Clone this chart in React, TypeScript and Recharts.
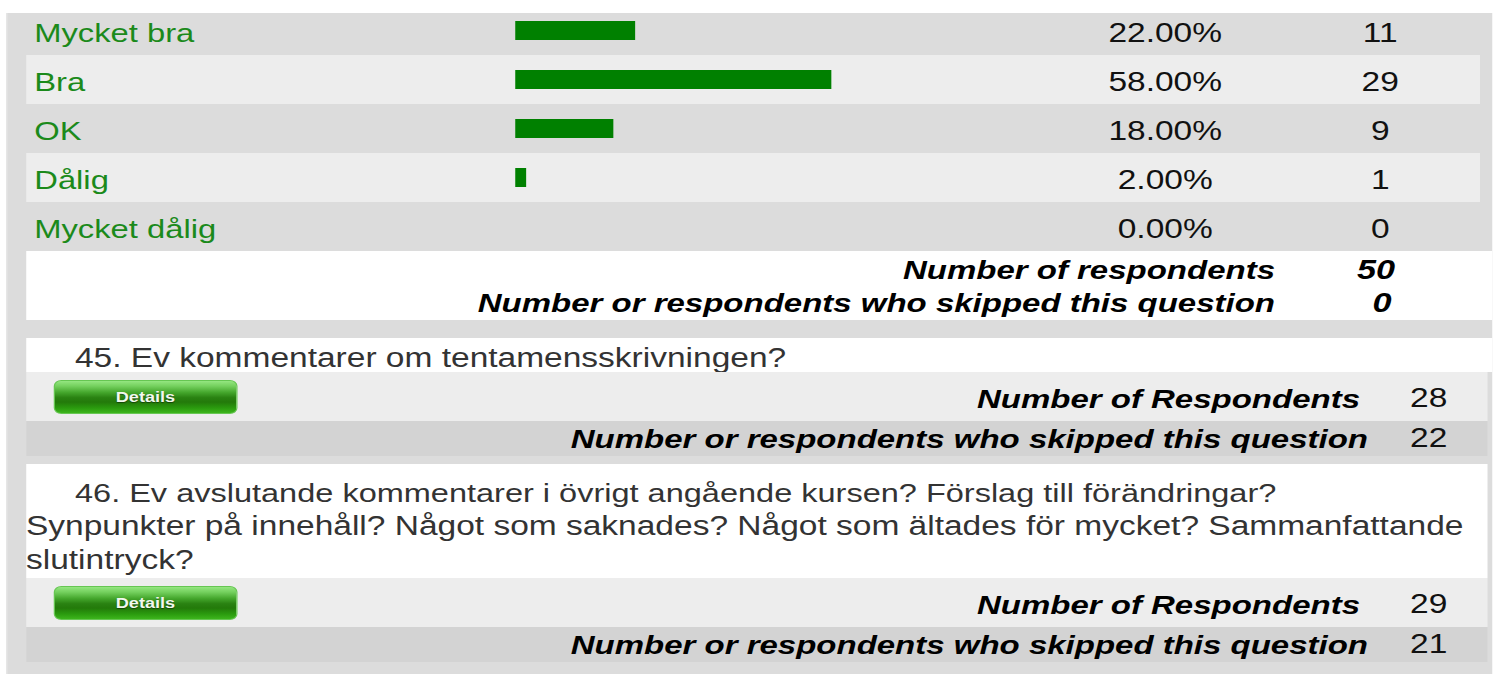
import React from 'react';
import { BarChart, Bar, XAxis, YAxis } from 'recharts';

// ---------- data ----------
const categories = ['Mycket bra', 'Bra', 'OK', 'Dålig', 'Mycket dålig'];
const percents = [22, 58, 18, 2, 0];
const counts = [11, 29, 9, 1, 0];
const totalRespondents = 50;
const totalSkipped = 0;

const q45Title = '45. Ev kommentarer om tentamensskrivningen?';
const q45Respondents = 28;
const q45Skipped = 22;

const q46TitleLines = [
  '46. Ev avslutande kommentarer i övrigt angående kursen? Förslag till förändringar?',
  'Synpunkter på innehåll? Något som saknades? Något som ältades för mycket? Sammanfattande',
  'slutintryck?',
];
const q46Respondents = 29;
const q46Skipped = 21;

const labelRespondents = 'Number of respondents';
const labelRespondentsCap = 'Number of Respondents';
const labelSkipped = 'Number or respondents who skipped this question';

const chartData = categories.map((label, i) => ({ label, percent: percents[i], count: counts[i] }));

// ---------- layout ----------
const SX = 1.25; // horizontal stretch of the reference
const W = 1493 / SX;
const u = (px: number) => px / SX;
const FONT = '"Liberation Sans", Arial, Helvetica, sans-serif';
const ROW_H = 49;
const CHART_TOP = 6;
const FS_TEXT = 26.8;
const FS_BI = 26.4;
const FS_LABEL = 26.2;

type TxtProps = {
  x: number;
  baseline: number;
  align?: 'left' | 'right' | 'center';
  size?: number;
  bold?: boolean;
  italic?: boolean;
  color?: string;
  parentW?: number;
  children: React.ReactNode;
};

const Txt = ({ x, baseline, align = 'left', size = FS_TEXT, bold, italic, color = '#111', parentW = W, children }: TxtProps) => {
  const top = baseline - 0.8465 * size;
  const base: React.CSSProperties = {
    position: 'absolute',
    top,
    fontSize: size,
    lineHeight: `${size}px`,
    fontFamily: FONT,
    fontWeight: bold ? 'bold' : 'normal',
    fontStyle: italic ? 'italic' : 'normal',
    color,
    whiteSpace: 'nowrap',
  };
  if (align === 'right') return <div style={{ ...base, right: parentW - x, textAlign: 'right' }}>{children}</div>;
  if (align === 'center') return <div style={{ ...base, left: x - 200, width: 400, textAlign: 'center' }}>{children}</div>;
  return <div style={{ ...base, left: x }}>{children}</div>;
};

const Box = ({ x1, x2, top, h, bg, children, clip }: any) => (
  <div
    style={{
      position: 'absolute',
      left: u(x1),
      top,
      width: u(x2 - x1),
      height: h,
      background: bg,
      overflow: clip ? 'hidden' : 'visible',
    }}
  >
    {children}
  </div>
);

const DetailsButton = ({ top }: { top: number }) => (
  <div
    style={{
      position: 'absolute',
      left: u(54),
      top,
      width: u(237 - 54),
      height: 34,
      borderRadius: 6,
      boxSizing: 'border-box',
      border: '1px solid #66c652',
      background:
        'linear-gradient(to bottom, #94e680 0%, #74d05e 16%, #44a62c 36%, #2a8212 52%, #237a0a 66%, #2a9a0e 84%, #3cb51c 100%)',
      color: '#f2f8ee',
      fontFamily: FONT,
      fontWeight: 'bold',
      fontSize: 14.5,
      lineHeight: '32px',
      textAlign: 'center',
      textShadow: '0 1px 1px rgba(0,0,0,0.45)',
    }}
  >
    Details
  </div>
);

const PLOT_LEFT = 515;
const RowTick = (props: any) => {
  const { x, y, payload } = props;
  const idx = typeof payload.index === 'number' ? payload.index : categories.indexOf(payload.value);
  return (
    <g fontFamily={FONT}>
      <text x={x - u(PLOT_LEFT - 34)} y={y + 11.5} fill="#1b8a1b" fontSize={FS_LABEL} textAnchor="start">
        {payload.value}
      </text>
      <text x={x + u(1165 - PLOT_LEFT)} y={y + 11.5} fill="#111" fontSize={FS_TEXT} textAnchor="middle">
        {percents[idx].toFixed(2)}%
      </text>
      <text x={x + u(1380 - PLOT_LEFT)} y={y + 11.5} fill="#111" fontSize={FS_TEXT} textAnchor="middle">
        {counts[idx]}
      </text>
    </g>
  );
};

const QuestionStats = ({ rowTop, respondents, skipped }: { rowTop: number; respondents: number; skipped: number }) => (
  <>
    <Box x1={26} x2={1487} top={rowTop} h={49} bg="#ededed" />
    <Box x1={26} x2={1487} top={rowTop + 49} h={35} bg="#d3d3d3" />
    <DetailsButton top={rowTop + 8} />
    <Txt x={u(1360)} baseline={rowTop + 36} align="right" bold italic size={FS_BI} color="#000">
      {labelRespondentsCap}
    </Txt>
    <Txt x={u(1410)} baseline={rowTop + 36}>{respondents}</Txt>
    <Txt x={u(1368)} baseline={rowTop + 49 + 27} align="right" bold italic size={FS_BI} color="#000">
      {labelSkipped}
    </Txt>
    <Txt x={u(1410)} baseline={rowTop + 49 + 27}>{skipped}</Txt>
  </>
);

export default function App() {
  return (
    <div
      style={{
        position: 'absolute',
        left: 0,
        top: 0,
        width: W,
        height: 674,
        background: '#fff',
        overflow: 'hidden',
        transform: `scaleX(${SX})`,
        transformOrigin: '0 0',
      }}
    >
      {/* panel */}
      <div
        style={{
          position: 'absolute',
          left: u(6),
          top: 13,
          width: W - u(6),
          height: 674 - 13,
          background: '#dcdcdc',
          boxSizing: 'border-box',
          borderLeft: '1px solid #e6e6e6',
        }}
      />

      {/* alternating row backgrounds */}
      {categories.map((c, i) =>
        i % 2 === 1 ? (
          <div
            key={c}
            style={{
              position: 'absolute',
              left: u(26),
              top: CHART_TOP + i * ROW_H,
              width: u(1480 - 26),
              height: ROW_H,
              background: '#ededed',
            }}
          />
        ) : null
      )}

      {/* chart */}
      <div style={{ position: 'absolute', left: u(26), top: CHART_TOP }}>
        <BarChart
          width={u(1480 - 26)}
          height={ROW_H * categories.length}
          data={chartData}
          layout="vertical"
          margin={{ top: 0, right: u(1480 - 1060), bottom: 0, left: 0 }}
        >
          <XAxis type="number" domain={[0, 100]} hide />
          <YAxis
            type="category"
            dataKey="label"
            width={u(PLOT_LEFT - 26)}
            axisLine={false}
            tickLine={false}
            tickSize={0}
            tickMargin={0}
            interval={0}
            tick={<RowTick />}
          />
          <Bar dataKey="percent" fill="#008000" barSize={19} isAnimationActive={false} />
        </BarChart>
      </div>

      {/* summary */}
      <Box x1={26} x2={1493} top={251} h={69} bg="#fff" />
      <Txt x={u(1275)} baseline={279} align="right" bold italic size={FS_BI} color="#000">
        {labelRespondents}
      </Txt>
      <Txt x={u(1376)} baseline={279} align="center" bold italic size={FS_BI + 1} color="#000">
        {totalRespondents}
      </Txt>
      <Txt x={u(1382)} baseline={312} align="center" bold italic size={FS_BI + 1} color="#000">
        {totalSkipped}
      </Txt>
      <Txt x={u(1275)} baseline={312} align="right" bold italic size={FS_BI} color="#000">
        {labelSkipped}
      </Txt>

      {/* question 45 */}
      <Box x1={26} x2={1493} top={338} h={34} bg="#fff" clip>
        <Txt x={u(75 - 26)} baseline={30} color="#333">
          {q45Title}
        </Txt>
      </Box>
      <QuestionStats rowTop={372} respondents={q45Respondents} skipped={q45Skipped} />

      {/* question 46 */}
      <Box x1={26} x2={1487} top={464} h={114} bg="#fff">
        {q46TitleLines.map((line, i) => (
          <Txt key={i} x={i === 0 ? u(75 - 26) : 0} baseline={38 + i * 34} size={i === 0 ? 26 : FS_TEXT} color="#333">
            {line}
          </Txt>
        ))}
      </Box>
      <QuestionStats rowTop={578} respondents={q46Respondents} skipped={q46Skipped} />
    </div>
  );
}
